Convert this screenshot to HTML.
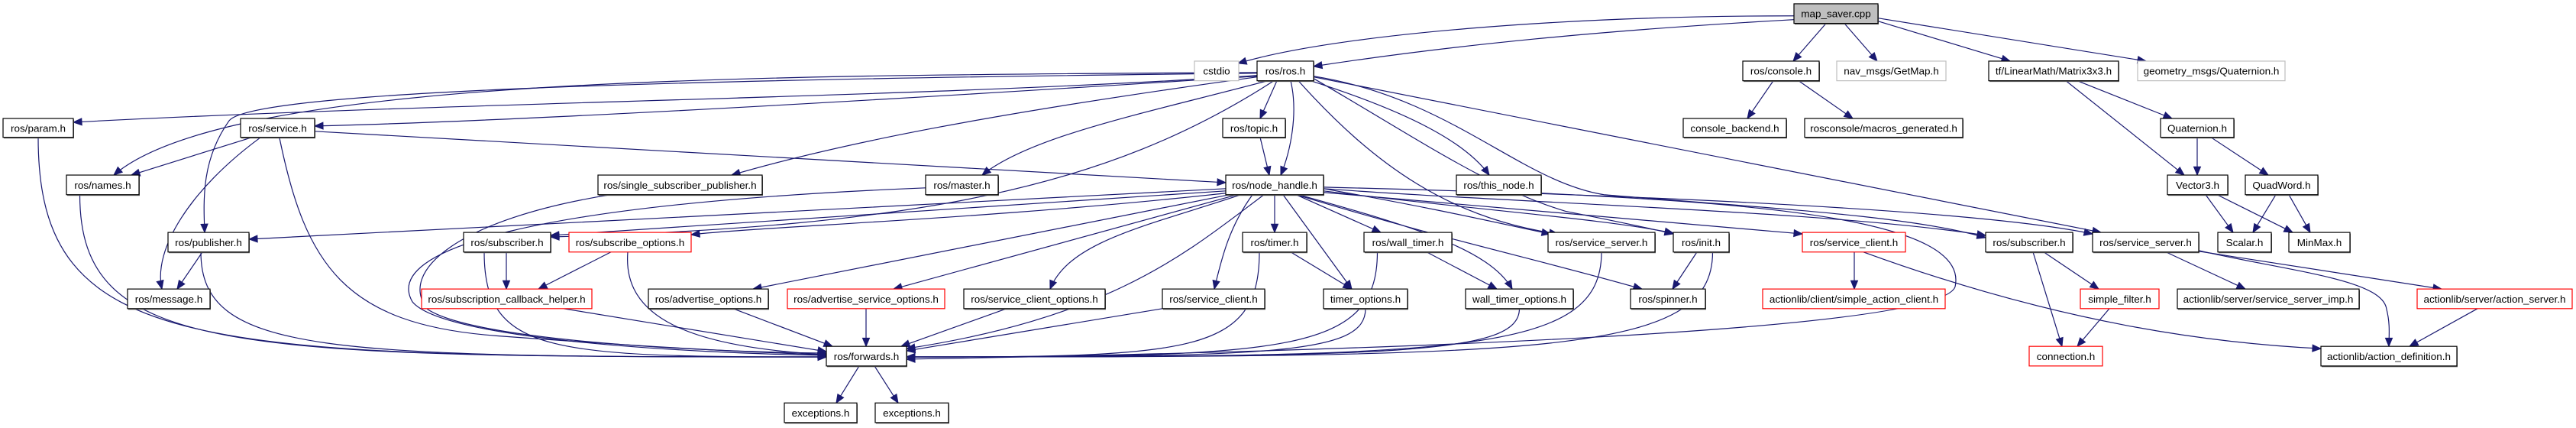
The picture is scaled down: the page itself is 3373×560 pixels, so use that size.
<!DOCTYPE html>
<html><head><meta charset="utf-8">
<style>
html,body{margin:0;padding:0;background:#fff;width:3373px;height:560px;overflow:hidden}
svg{display:block}
text{font-family:"Liberation Sans",Arial,sans-serif;font-size:13.5px;fill:#000}
</style></head><body>
<svg id="s" width="3373" height="560" xmlns="http://www.w3.org/2000/svg">
<g id="g" transform="scale(1,0.9873)"><g id="e"></g><g id="n"></g></g>
</svg>
<script>
var R=[[5,31],[81,107],[157,182],[232,258],[308,334],[383,409],[459,485],[534,560]];
var N={
ms:["map_saver.cpp",2349,2459,0,"f"],
cst:["cstdio",1564,1622,1,"g"],ros:["ros/ros.h",1646,1720,1],con:["ros/console.h",2282,2382,1],
nav:["nav_msgs/GetMap.h",2405,2548,1,"g"],tf:["tf/LinearMath/Matrix3x3.h",2604,2774,1],geo:["geometry_msgs/Quaternion.h",2799,2992,1,"g"],
param:["ros/param.h",4,96,2],svc:["ros/service.h",315,412,2],topic:["ros/topic.h",1601,1683,2],
cb:["console_backend.h",2204,2339,2],mg:["rosconsole/macros_generated.h",2363,2570,2],quat:["Quaternion.h",2829,2925,2],
names:["ros/names.h",87,182,3],ssp:["ros/single_subscriber_publisher.h",783,998,3],master:["ros/master.h",1212,1307,3],
nh:["ros/node_handle.h",1605,1733,3],thisn:["ros/this_node.h",1907,2018,3],vec:["Vector3.h",2838,2917,3],qw:["QuadWord.h",2940,3035,3],
pub:["ros/publisher.h",220,326,4],sub1:["ros/subscriber.h",607,721,4],subo:["ros/subscribe_options.h",745,905,4,"r"],
timer:["ros/timer.h",1627,1711,4],wt:["ros/wall_timer.h",1786,1901,4],ss1:["ros/service_server.h",2027,2167,4],
init:["ros/init.h",2191,2264,4],sc2:["ros/service_client.h",2360,2495,4,"r"],sub2:["ros/subscriber.h",2600,2714,4],
ss2:["ros/service_server.h",2740,2879,4],scalar:["Scalar.h",2904,2974,4],minmax:["MinMax.h",2997,3077,4],
msg:["ros/message.h",167,275,5],sch:["ros/subscription_callback_helper.h",552,775,5,"r"],ao:["ros/advertise_options.h",849,1006,5],
aso:["ros/advertise_service_options.h",1031,1237,5,"r"],sco:["ros/service_client_options.h",1262,1447,5],sc1:["ros/service_client.h",1522,1656,5],
to:["timer_options.h",1733,1843,5],wto:["wall_timer_options.h",1919,2060,5],spin:["ros/spinner.h",2135,2233,5],
sac:["actionlib/client/simple_action_client.h",2308,2547,5,"r"],sf:["simple_filter.h",2724,2827,5,"r"],
ssi:["actionlib/server/service_server_imp.h",2851,3089,5],as:["actionlib/server/action_server.h",3165,3368,5,"r"],
fwd:["ros/forwards.h",1082,1187,6],conn:["connection.h",2657,2753,6,"r"],ad:["actionlib/action_definition.h",3039,3217,6],
ex1:["exceptions.h",1027,1122,7],ex2:["exceptions.h",1146,1242,7]
};
var ns="http://www.w3.org/2000/svg",gn=document.getElementById('n'),ge=document.getElementById('e');
function el(t,a,p){var x=document.createElementNS(ns,t);for(var k in a)x.setAttribute(k,a[k]);p.appendChild(x);return x;}
for(var k in N){var d=N[k],y=R[d[3]],t=d[4]||"n";
 var st=t=="r"?"#ff0000":t=="g"?"#bfbfbf":"#000";
 el("rect",{x:d[1]+1,y:y[0]+1.5,width:d[2]-d[1],height:y[1]-y[0],fill:t=="g"||t=="r"?"none":"#666"},gn);
 el("rect",{x:d[1],y:y[0],width:d[2]-d[1],height:y[1]-y[0],fill:t=="f"?"#bfbfbf":"#fff",stroke:st,"stroke-width":1.2},gn);
 var tx=el("text",{x:(d[1]+d[2])/2,y:(y[0]+y[1])/2+5,"text-anchor":"middle"},gn);tx.textContent=d[0];}
function T(k){var d=N[k];return R[d[3]][0]}function B(k){var d=N[k];return R[d[3]][1]}function C(k){var d=N[k];return (d[1]+d[2])/2}
function P(a){
 var s="M"+a[0]+","+a[1];
 if(a.length==4)s+="L"+a[2]+","+a[3];
 else{for(var i=2;i<a.length;i+=6)s+="C"+a.slice(i,i+6).join(",");}
 el("path",{d:s,fill:"none",stroke:"#191970","stroke-width":1.2},ge);
 var L=a.length,tx=a[L-2],ty=a[L-1],px=a[L-4],py=a[L-3];
 var dx=tx-px,dy=ty-py,m=Math.sqrt(dx*dx+dy*dy)||1;dx/=m;dy/=m;
 var bx=tx-dx*11,by=ty-dy*11;
 el("polygon",{points:tx+","+ty+" "+(bx-dy*4.5)+","+(by+dx*4.5)+" "+(bx+dy*4.5)+","+(by-dx*4.5),fill:"#191970",stroke:"#191970"},ge);}
function LF(k,off){var sx=C(k)+(off||0),sy=B(k);P([sx,sy,sx,sy+(470-sy)*1.0,sx+(1082-sx)*0.2,473,1082,473]);}
function RF(k,off){var sx=C(k)+(off||0),sy=B(k);P([sx,sy,sx,sy+(470-sy)*1.0,sx+(1187-sx)*0.2,473,1187,473]);}
P([2349,21,2050,21,1750,45,1621,84]);
P([2349,26,2100,40,1900,60,1720,88]);
P([2391,31,2348,81]);P([2415,31,2458,81]);P([2459,28,2632,81]);P([2459,24,2810,81]);
P([1646,100,1200,130,600,135,96,162]);
P([1646,96,1000,100,300,100,149,232]);
P([1646,101,1200,130,700,160,412,167]);
P([1646,97,900,105,330,120,300,160,265,210,266,260,268,308]);
P([1646,102,1300,150,1100,190,958,232]);
P([1660,107,1500,150,1350,180,1286,232]);
P([1668,107,1450,250,1200,300,721,314]);
P([1672,107,1650,157]);
P([1690,107,1700,150,1690,200,1677,232]);
P([1710,105,1850,150,1920,190,1950,232]);
P([1700,107,1800,220,1900,290,2040,310]);
P([1720,104,1850,180,1950,250,2050,280,2100,290,2150,300,2191,310]);
P([1720,101,1900,130,1990,240,2100,258,2300,275,2500,285,2600,315]);
P([1720,102,2751,308]);
P([330,182,172,232]);P([340,183,250,250,200,330,212,383]);P([412,174,1605,242]);
P([366,183,400,350,450,430,650,445,850,460,1000,468,1082,470]);
LF("param");LF("names",-30);LF("pub",-10);
P([265,334,232,383]);
P([800,258,600,290,520,360,560,410,620,450,900,466,1082,468]);
P([1212,249,700,270,500,330,540,400,580,450,900,468,1082,471]);
P([1605,250,1200,270,700,300,326,317]);
P([1605,253,721,312]);
P([1605,256,1300,290,1000,300,905,311]);
P([1655,258,1560,330,1460,420,1187,462]);
P([1610,258,986,383]);P([1620,258,1170,383]);
P([1625,258,1500,300,1400,320,1375,383]);
P([1640,258,1610,300,1600,340,1590,383]);
P([1669,258,1669,308]);P([1680,258,1770,383]);P([1697,258,1808,308]);
P([1700,258,1850,300,1950,330,1980,383]);
P([1733,250,1900,280,1980,300,2030,310]);
P([1733,253,1950,280,2100,290,2191,309]);
P([1697,258,1900,320,2000,340,2150,383]);
P([1733,255,2360,310]);
P([1733,250,2000,270,2400,280,2600,312]);
P([1733,248,2200,260,2600,280,2740,310]);
P([1650,182,1662,232]);
P([2018,256,2300,270,2580,290,2560,380,2540,440,1800,465,1187,476]);
P([663,334,663,383]);LF("sub1",-30);P([800,334,705,383]);
P([822,334,815,420,900,460,1082,470]);
P([738,409,1082,466]);
P([960,409,1090,459]);P([1134,409,1134,459]);P([1318,409,1180,459]);P([1522,409,1187,465]);
RF("timer",-20);RF("to");RF("wt",-40);RF("wto");RF("ss1");RF("init",15);
P([1690,334,1770,383]);P([1868,334,1960,383]);P([2222,334,2190,383]);
P([2428,334,2428,383]);P([2440,334,2700,430,2900,455,3039,462]);
P([2676,334,2748,383]);P([2662,334,2700,459]);P([2762,409,2720,459]);
P([2836,334,2940,383]);P([2879,333,3197,383]);
P([2879,332,3000,360,3120,370,3125,410,3130,430,3128,445,3128,459]);
P([3244,409,3155,459]);
P([1125,485,1095,534]);P([1145,485,1176,534]);
P([2322,107,2288,157]);P([2355,107,2426,157]);
P([2720,107,2844,157]);P([2705,107,2860,232]);
P([2877,182,2877,232]);P([2895,182,2970,232]);
P([2888,258,2924,308]);P([2903,258,3002,308]);P([2980,258,2950,308]);P([2997,258,3025,308]);
</script>
</body></html>
